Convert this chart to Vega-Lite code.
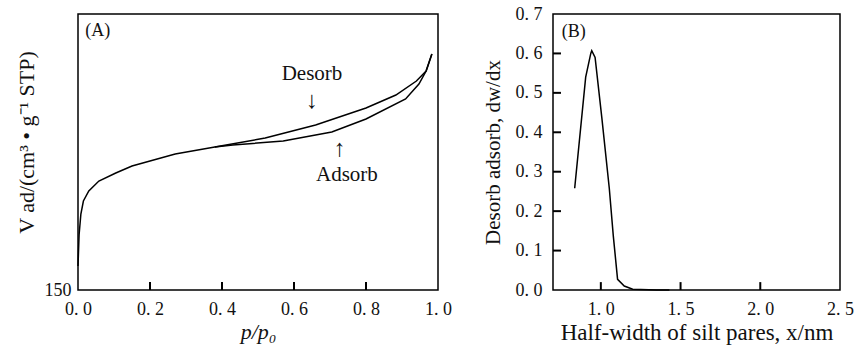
{
  "$schema": "https://vega.github.io/schema/vega-lite/v6.json",
  "padding": {"left": 14, "top": 4, "right": 0, "bottom": 0},
  "background": "white",
  "spacing": 115,
  "bounds": "flush",
  "config": {
    "view": {"stroke": "black", "strokeWidth": 1.5},
    "font": "Liberation Serif",
    "text": {"font": "Liberation Serif", "color": "#111"},
    "axis": {
      "labelFont": "Liberation Serif", "labelFontSize": 18, "labelColor": "#111",
      "titleFont": "Liberation Serif", "titleFontSize": 21, "titleFontWeight": "normal", "titleColor": "#111",
      "grid": false, "domain": false, "ticks": false,
      "labelFlush": false, "labelOverlap": false
    }
  },
  "hconcat": [
    {
      "width": 360, "height": 276,
      "layer": [
        {
          "data": {"values": [
            {"p": 0.0, "v": 174, "branch": "Adsorb"},
            {"p": 0.003, "v": 205, "branch": "Adsorb"},
            {"p": 0.008, "v": 226, "branch": "Adsorb"},
            {"p": 0.015, "v": 239, "branch": "Adsorb"},
            {"p": 0.03, "v": 249, "branch": "Adsorb"},
            {"p": 0.058, "v": 259, "branch": "Adsorb"},
            {"p": 0.105, "v": 267, "branch": "Adsorb"},
            {"p": 0.15, "v": 274, "branch": "Adsorb"},
            {"p": 0.27, "v": 286, "branch": "Adsorb"},
            {"p": 0.38, "v": 293, "branch": "Adsorb"},
            {"p": 0.43, "v": 295, "branch": "Adsorb"},
            {"p": 0.57, "v": 299, "branch": "Adsorb"},
            {"p": 0.705, "v": 308, "branch": "Adsorb"},
            {"p": 0.80, "v": 321, "branch": "Adsorb"},
            {"p": 0.91, "v": 341, "branch": "Adsorb"},
            {"p": 0.947, "v": 356, "branch": "Adsorb"},
            {"p": 0.967, "v": 369, "branch": "Adsorb"},
            {"p": 0.983, "v": 386, "branch": "Adsorb"},
            {"p": 0.38, "v": 293, "branch": "Desorb"},
            {"p": 0.52, "v": 302, "branch": "Desorb"},
            {"p": 0.66, "v": 315, "branch": "Desorb"},
            {"p": 0.80, "v": 332, "branch": "Desorb"},
            {"p": 0.883, "v": 345, "branch": "Desorb"},
            {"p": 0.94, "v": 359, "branch": "Desorb"},
            {"p": 0.967, "v": 369, "branch": "Desorb"},
            {"p": 0.983, "v": 386, "branch": "Desorb"}
          ]},
          "mark": {"type": "line", "color": "black", "strokeWidth": 1.5},
          "encoding": {
            "x": {"field": "p", "type": "quantitative", "scale": {"domain": [0, 1], "nice": false},
                  "axis": {"values": [0, 0.2, 0.4, 0.6, 0.8, 1.0], "tickCount": 6, "labelExpr": "replace(format(datum.value,'.1f'),'.','. ')", "title": "p/p₀", "titleFontStyle": "italic", "titleFontSize": 22, "labelPadding": 10, "titlePadding": 3, "labelOverlap": false}},
            "y": {"field": "v", "type": "quantitative", "scale": {"domain": [150, 426], "nice": false},
                  "axis": {"values": [150], "title": "V ad/(cm³ • g⁻¹ STP)", "titleFontSize": 22, "labelPadding": 7, "titlePadding": 6, "titleY": 128, "labelOverlap": false}},
            "detail": {"field": "branch"},
            "order": {"field": "p"}
          }
        },
        {
          "data": {"values": [{"p": 0.2, "v": 150, "v2": 158}, {"p": 0.4, "v": 150, "v2": 158}, {"p": 0.6, "v": 150, "v2": 158}, {"p": 0.8, "v": 150, "v2": 158}]},
          "mark": {"type": "rule", "color": "black", "strokeWidth": 2},
          "encoding": {"x": {"field": "p", "type": "quantitative"}, "y": {"field": "v", "type": "quantitative"}, "y2": {"field": "v2"}}
        },
        {"data": {"values": [{}]}, "mark": {"type": "text", "fontSize": 18, "align": "left"}, "encoding": {"x": {"datum": 0.02}, "y": {"datum": 409}, "text": {"value": "(A)"}}},
        {"data": {"values": [{}]}, "mark": {"type": "text", "fontSize": 21}, "encoding": {"x": {"datum": 0.65}, "y": {"datum": 366}, "text": {"value": "Desorb"}}},
        {"data": {"values": [{}]}, "mark": {"type": "text", "fontSize": 24}, "encoding": {"x": {"datum": 0.65}, "y": {"datum": 339}, "text": {"value": "↓"}}},
        {"data": {"values": [{}]}, "mark": {"type": "text", "fontSize": 24}, "encoding": {"x": {"datum": 0.727}, "y": {"datum": 291}, "text": {"value": "↑"}}},
        {"data": {"values": [{}]}, "mark": {"type": "text", "fontSize": 21}, "encoding": {"x": {"datum": 0.747}, "y": {"datum": 265}, "text": {"value": "Adsorb"}}}
      ]
    },
    {
      "width": 287, "height": 276,
      "layer": [
        {
          "data": {"values": [
            {"x": 0.836, "d": 0.258},
            {"x": 0.905, "d": 0.54},
            {"x": 0.937, "d": 0.60},
            {"x": 0.943, "d": 0.607},
            {"x": 0.964, "d": 0.59},
            {"x": 1.006, "d": 0.438},
            {"x": 1.053, "d": 0.258},
            {"x": 1.078, "d": 0.138},
            {"x": 1.105, "d": 0.027},
            {"x": 1.147, "d": 0.01},
            {"x": 1.20, "d": 0.002},
            {"x": 1.35, "d": 0.0},
            {"x": 1.43, "d": 0.0}
          ]},
          "mark": {"type": "line", "color": "black", "strokeWidth": 1.5},
          "encoding": {
            "x": {"field": "x", "type": "quantitative", "scale": {"domain": [0.7, 2.5], "nice": false},
                  "axis": {"values": [1.0, 1.5, 2.0, 2.5], "tickCount": 4, "labelExpr": "replace(format(datum.value,'.1f'),'.','. ')", "title": "Half-width of silt pares, x/nm", "titleFontSize": 23, "labelPadding": 10, "titlePadding": 3, "labelOverlap": false}},
            "y": {"field": "d", "type": "quantitative", "scale": {"domain": [0, 0.7], "nice": false},
                  "axis": {"values": [0, 0.1, 0.2, 0.3, 0.4, 0.5, 0.6, 0.7], "tickCount": 8, "labelExpr": "replace(format(datum.value,'.1f'),'.','. ')", "title": "Desorb adsorb, dw/dx", "labelPadding": 11, "titlePadding": 12, "labelOverlap": false}}
          }
        },
        {
          "data": {"values": [{"x": 1.0, "d": 0, "d2": 0.02}, {"x": 1.5, "d": 0, "d2": 0.02}, {"x": 2.0, "d": 0, "d2": 0.02}]},
          "mark": {"type": "rule", "color": "black", "strokeWidth": 2},
          "encoding": {"x": {"field": "x", "type": "quantitative"}, "y": {"field": "d", "type": "quantitative"}, "y2": {"field": "d2"}}
        },
        {
          "data": {"values": [{"d": 0.1, "x": 0.7, "x2": 0.75}, {"d": 0.2, "x": 0.7, "x2": 0.75}, {"d": 0.3, "x": 0.7, "x2": 0.75}, {"d": 0.4, "x": 0.7, "x2": 0.75}, {"d": 0.5, "x": 0.7, "x2": 0.75}, {"d": 0.6, "x": 0.7, "x2": 0.75}]},
          "mark": {"type": "rule", "color": "black", "strokeWidth": 2},
          "encoding": {"y": {"field": "d", "type": "quantitative"}, "x": {"field": "x", "type": "quantitative"}, "x2": {"field": "x2"}}
        },
        {"data": {"values": [{}]}, "mark": {"type": "text", "fontSize": 18, "align": "left"}, "encoding": {"x": {"datum": 0.755}, "y": {"datum": 0.654}, "text": {"value": "(B)"}}}
      ]
    }
  ]
}
